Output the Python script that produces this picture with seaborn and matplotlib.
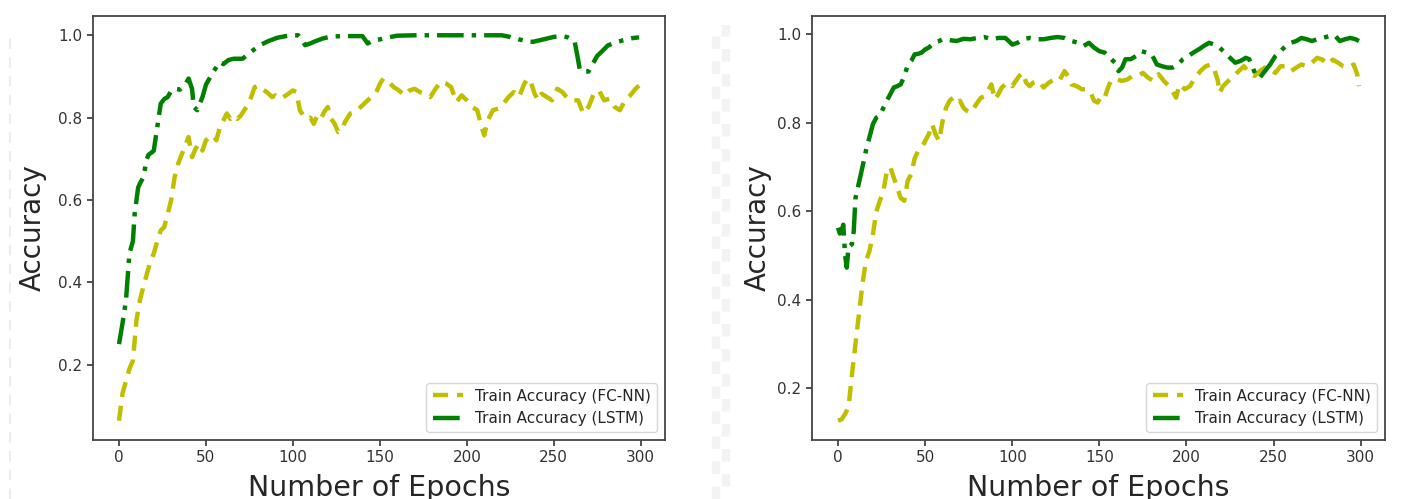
import matplotlib
matplotlib.use("Agg")
import matplotlib.pyplot as plt
from matplotlib.lines import Line2D
import seaborn as sns

# ---- data (epoch, accuracy) ----
left_lstm_epochs = [0, 2, 4, 6, 8, 9, 11, 12, 14, 16, 17, 19, 20, 22, 24, 26, 28, 30, 32, 35,
                    38, 40, 42, 43, 45, 48, 50, 54, 58, 60, 63, 66, 71, 76, 81, 86, 91, 96, 100,
                    103, 105, 107, 110, 112, 117, 122, 130, 140, 143, 146, 150, 155, 160, 170,
                    180, 190, 200, 210, 220, 225, 230, 235, 238, 242, 246, 250, 255, 258, 262,
                    264, 265, 268, 270, 273, 275, 278, 281, 285, 290, 295, 299]
left_lstm_acc = [0.25, 0.30, 0.356, 0.47, 0.50, 0.566, 0.63, 0.64, 0.655, 0.70, 0.71, 0.716, 0.72,
                 0.777, 0.834, 0.845, 0.85, 0.865, 0.87, 0.868, 0.88, 0.895, 0.87, 0.826, 0.818,
                 0.85, 0.88, 0.91, 0.935, 0.93, 0.94, 0.943, 0.943, 0.96, 0.976, 0.986, 0.994,
                 0.998, 1.0, 1.0, 0.99, 0.976, 0.98, 0.984, 0.992, 0.997, 0.998, 0.998, 0.98,
                 0.988, 0.99, 0.995, 0.999, 1.0, 1.0, 1.0, 1.0, 1.0, 1.0, 0.996, 0.99, 0.985,
                 0.984, 0.988, 0.992, 0.996, 0.998, 0.995, 0.985, 0.94, 0.915, 0.912, 0.912,
                 0.935, 0.95, 0.962, 0.975, 0.982, 0.988, 0.993, 0.995]

left_fcnn_epochs = [0, 2, 4, 6, 8, 10, 12, 14, 16, 18, 20, 22, 24, 26, 28, 30, 32, 34, 36, 38,
                    40, 42, 44, 46, 48, 50, 52, 54, 56, 58, 60, 62, 64, 66, 68, 70, 72, 74, 76,
                    78, 80, 82, 85, 88, 90, 93, 96, 100, 102, 104, 106, 108, 110, 112, 114, 116,
                    118, 120, 122, 124, 126, 128, 130, 133, 136, 139, 142, 145, 148, 150, 152,
                    155, 158, 161, 164, 167, 170, 173, 176, 179, 182, 185, 188, 191, 194, 197,
                    200, 203, 206, 208, 210, 212, 215, 218, 221, 224, 227, 230, 233, 235, 237,
                    239, 241, 243, 246, 249, 252, 255, 258, 261, 264, 267, 270, 273, 276, 279,
                    282, 285, 288, 291, 294, 297, 299]
left_fcnn_acc = [0.064, 0.13, 0.16, 0.19, 0.21, 0.307, 0.356, 0.39, 0.42, 0.45, 0.47, 0.50, 0.526,
                 0.534, 0.566, 0.60, 0.656, 0.688, 0.71, 0.73, 0.753, 0.704, 0.724, 0.737, 0.72,
                 0.745, 0.753, 0.757, 0.745, 0.777, 0.793, 0.81, 0.797, 0.805, 0.797, 0.805,
                 0.818, 0.83, 0.85, 0.874, 0.878, 0.87, 0.862, 0.85, 0.854, 0.846, 0.854, 0.866,
                 0.862, 0.818, 0.805, 0.797, 0.80, 0.785, 0.805, 0.797, 0.814, 0.826, 0.797,
                 0.785, 0.765, 0.77, 0.79, 0.81, 0.814, 0.826, 0.838, 0.85, 0.862, 0.882, 0.895,
                 0.887, 0.874, 0.866, 0.854, 0.866, 0.87, 0.862, 0.858, 0.85, 0.87, 0.887, 0.883,
                 0.874, 0.838, 0.854, 0.842, 0.826, 0.818, 0.785, 0.757, 0.793, 0.818, 0.822,
                 0.834, 0.85, 0.862, 0.85, 0.882, 0.895, 0.883, 0.858, 0.842, 0.858, 0.85, 0.842,
                 0.87, 0.862, 0.846, 0.842, 0.842, 0.81, 0.826, 0.858, 0.866, 0.842, 0.846, 0.826,
                 0.818, 0.842, 0.854, 0.87, 0.878]

right_lstm_epochs = [0, 1, 2, 3, 4, 5, 6, 8, 9, 10, 12, 14, 16, 18, 20, 22, 24, 26, 28, 30, 32,
                     34, 36, 38, 40, 42, 44, 46, 48, 50, 52, 54, 56, 58, 60, 64, 68, 72, 76, 80,
                     84, 88, 92, 96, 98, 100, 103, 106, 110, 114, 118, 122, 126, 130, 134, 138,
                     141, 144, 147, 150, 153, 156, 159, 161, 163, 165, 168, 171, 174, 177, 180,
                     183, 186, 189, 192, 195, 198, 201, 204, 207, 210, 213, 216, 219, 222, 225,
                     228, 231, 234, 236, 238, 240, 242, 245, 248, 251, 254, 257, 260, 263, 266,
                     269, 272, 275, 278, 282, 285, 288, 291, 294, 297, 299]
right_lstm_acc = [0.563, 0.55, 0.555, 0.57, 0.503, 0.473, 0.52, 0.526, 0.555, 0.63, 0.665, 0.70,
                  0.737, 0.767, 0.797, 0.812, 0.816, 0.834, 0.85, 0.865, 0.88, 0.883, 0.887,
                  0.906, 0.93, 0.94, 0.955, 0.956, 0.959, 0.966, 0.97, 0.977, 0.983, 0.985, 0.989,
                  0.987, 0.985, 0.99, 0.989, 0.992, 0.994, 0.989, 0.992, 0.992, 0.985, 0.977,
                  0.981, 0.989, 0.992, 0.989, 0.989, 0.992, 0.994, 0.992, 0.985, 0.981, 0.974,
                  0.981, 0.97, 0.962, 0.959, 0.947, 0.936, 0.917, 0.925, 0.944, 0.944, 0.951,
                  0.962, 0.959, 0.955, 0.932, 0.928, 0.925, 0.925, 0.932, 0.944, 0.951, 0.959,
                  0.966, 0.974, 0.981, 0.977, 0.97, 0.959, 0.947, 0.936, 0.94, 0.947, 0.944,
                  0.925, 0.906, 0.902, 0.917, 0.932, 0.951, 0.962, 0.974, 0.981, 0.985, 0.992,
                  0.989, 0.985, 0.989, 0.992, 0.996, 0.998, 0.985, 0.989, 0.992, 0.989, 0.985]

right_fcnn_epochs = [0, 2, 4, 6, 8, 10, 12, 14, 16, 18, 20, 22, 24, 26, 28, 30, 32, 34, 36, 38,
                     40, 42, 44, 46, 48, 50, 52, 54, 56, 58, 60, 62, 64, 66, 68, 70, 72, 74, 76,
                     78, 80, 82, 84, 86, 88, 90, 92, 94, 96, 98, 100, 102, 104, 106, 108, 110,
                     112, 115, 118, 121, 124, 127, 130, 132, 134, 137, 140, 143, 145, 147, 149,
                     151, 153, 155, 157, 160, 163, 166, 169, 172, 175, 178, 181, 184, 187, 190,
                     192, 194, 196, 199, 202, 205, 208, 211, 214, 216, 218, 219, 221, 224, 227,
                     230, 233, 236, 239, 242, 245, 248, 251, 254, 257, 260, 263, 266, 269, 272,
                     275, 278, 281, 284, 287, 290, 293, 296, 298, 299]
right_fcnn_acc = [0.127, 0.13, 0.142, 0.157, 0.232, 0.30, 0.368, 0.436, 0.488, 0.51, 0.548, 0.60,
                  0.624, 0.646, 0.69, 0.70, 0.676, 0.654, 0.63, 0.624, 0.669, 0.684, 0.72, 0.737,
                  0.744, 0.759, 0.774, 0.797, 0.774, 0.759, 0.804, 0.834, 0.85, 0.857, 0.846,
                  0.85, 0.834, 0.827, 0.823, 0.834, 0.846, 0.857, 0.86, 0.872, 0.887, 0.853,
                  0.865, 0.88, 0.887, 0.891, 0.883, 0.895, 0.906, 0.913, 0.891, 0.883, 0.891,
                  0.895, 0.88, 0.891, 0.898, 0.895, 0.917, 0.906, 0.887, 0.883, 0.876, 0.876,
                  0.868, 0.85, 0.846, 0.861, 0.857, 0.88, 0.898, 0.898, 0.895, 0.898, 0.906,
                  0.906, 0.913, 0.902, 0.895, 0.91, 0.895, 0.883, 0.872, 0.857, 0.887, 0.876,
                  0.883, 0.902, 0.917, 0.928, 0.932, 0.921, 0.895, 0.868, 0.883, 0.895, 0.906,
                  0.917, 0.928, 0.913, 0.906, 0.917, 0.925, 0.921, 0.913, 0.928, 0.928, 0.917,
                  0.925, 0.932, 0.928, 0.936, 0.947, 0.943, 0.932, 0.943, 0.936, 0.928, 0.925,
                  0.932, 0.91, 0.883]

panels = [
    (left_fcnn_epochs, left_fcnn_acc, left_lstm_epochs, left_lstm_acc),
    (right_fcnn_epochs, right_fcnn_acc, right_lstm_epochs, right_lstm_acc),
]
x_ticks = [0, 50, 100, 150, 200, 250, 300]
y_ticks = [0.2, 0.4, 0.6, 0.8, 1.0]

sns.set_style("ticks")
plt.rcParams["font.family"] = ["DejaVu Sans"]

W, H = 1405, 499
fig = plt.figure(figsize=(W / 100, H / 100), dpi=100)
boxes = [(93, 59, 572, 424), (812, 59, 573, 424)]
ylabel_pads = [8, 4]

# faint background artefacts of the pasted screenshots
fig.add_artist(Line2D([10 / W, 10 / W], [0, 0.93], transform=fig.transFigure,
                      color="#ececec", lw=1.5, linestyle=(0, (5, 4))))
fig.add_artist(Line2D([716 / W, 716 / W], [0, 0.95], transform=fig.transFigure,
                      color="#f3f3f3", lw=6, linestyle=(0, (1.5, 1.5))))
fig.add_artist(Line2D([726 / W, 726 / W], [0, 0.95], transform=fig.transFigure,
                      color="#f3f3f3", lw=6, linestyle=(1.5, (1.5, 1.5))))

for (fe, fa, le, la), (x0, y0, w, h), lp in zip(panels, boxes, ylabel_pads):
    ax = fig.add_axes([x0 / W, y0 / H, w / W, h / H])
    sns.lineplot(x=fe, y=fa, ax=ax, color="y", linestyle=(0, (3.4, 2.0)), linewidth=3.2,
                 label="Train Accuracy (FC-NN)")
    sns.lineplot(x=le, y=la, ax=ax, color="g", linestyle=(0, (6.0, 1.8, 1.0, 1.8)),
                 linewidth=3.2, label="Train Accuracy (LSTM)")
    lo = min(min(fa), min(la))
    hi = max(max(fa), max(la))
    pad = (hi - lo) * 0.05
    ax.set_ylim(lo - pad, hi + pad)
    ax.set_xlim(-14.95, 313.95)
    ax.set_xticks(x_ticks)
    ax.set_yticks(y_ticks)
    ax.set_yticklabels([f"{t:.1f}" for t in y_ticks])
    ax.tick_params(labelsize=11, colors="#333333", length=4, width=1.2)
    for s in ax.spines.values():
        s.set_color("#444444")
        s.set_linewidth(1.3)
    ax.set_xlabel("Number of Epochs", fontsize=20.5, labelpad=6)
    ax.set_ylabel("Accuracy", fontsize=20, labelpad=lp)
    ax.legend(loc="lower right", fontsize=11, frameon=True, handlelength=2.0)

fig.savefig("out.png", dpi=100)
